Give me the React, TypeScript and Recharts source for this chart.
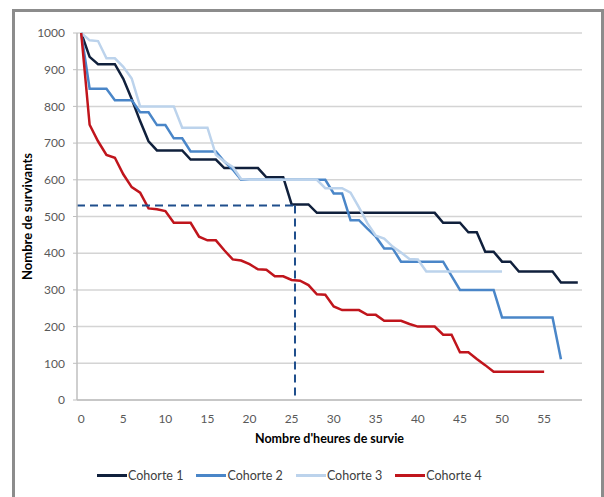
import { LineChart, Line, XAxis, YAxis, CartesianGrid, ReferenceLine, Legend } from 'recharts';

const hours = [
  0, 1, 2, 3, 4, 5, 6, 7, 8, 9, 10, 11, 12, 13, 14, 15, 16, 17, 18, 19,
  20, 21, 22, 23, 24, 25, 26, 27, 28, 29, 30, 31, 32, 33, 34, 35, 36, 37, 38, 39,
  40, 41, 42, 43, 44, 45, 46, 47, 48, 49, 50, 51, 52, 53, 54, 55, 56, 57, 58, 59,
];

const cohorte1 = [
  1000, 935, 915, 915, 915, 875, 820, 760, 705, 680, 680, 680, 680, 655, 655, 655, 655, 632, 632, 632,
  632, 632, 607, 607, 607, 533, 533, 533, 510, 510, 510, 510, 510, 510, 510, 510, 510, 510, 510, 510,
  510, 510, 510, 483, 483, 483, 457, 457, 404, 404, 377, 377, 350, 350, 350, 350, 350, 320, 320, 320,
];

const cohorte2 = [
  1000, 848, 848, 848, 817, 817, 817, 784, 784, 749, 749, 713, 713, 677, 677, 677, 677, 650, 628, 600,
  600, 600, 600, 600, 600, 600, 600, 600, 600, 600, 563, 563, 490, 490, 467, 445, 413, 413, 377, 377,
  377, 377, 377, 377, 338, 300, 300, 300, 300, 300, 225, 225, 225, 225, 225, 225, 225, 111, null, null,
];

const cohorte3 = [
  1000, 980, 978, 931, 931, 908, 876, 800, 800, 800, 800, 800, 742, 742, 742, 742, 668, 650, 635, 602,
  600, 600, 600, 600, 600, 600, 600, 600, 600, 577, 577, 577, 565, 525, 482, 448, 440, 418, 402, 384,
  383, 350, 350, 350, 350, 350, 350, 350, 350, 350, 350, null, null, null, null, null, null, null, null, null,
];

const cohorte4 = [
  1000, 750, 705, 668, 660, 615, 580, 565, 522, 520, 515, 483, 483, 483, 445, 435, 435, 408, 383, 380,
  370, 356, 355, 337, 337, 327, 325, 313, 288, 287, 255, 245, 245, 245, 232, 232, 216, 216, 216, 207,
  200, 200, 200, 178, 178, 130, 130, 112, 95, 77, 77, 77, 77, 77, 77, 77, null, null, null, null,
];

const xTicks = [0, 5, 10, 15, 20, 25, 30, 35, 40, 45, 50, 55];
const yTicks = [0, 100, 200, 300, 400, 500, 600, 700, 800, 900, 1000];
// limites entre catégories (petites graduations)
const minorTicks = [-0.5, ...hours.map((h) => h + 0.5)];

// repère médiane
const medianeHeures = 25.4;
const medianeSurvivants = 530;

const series = [
  { key: 'c1', name: 'Cohorte 1', color: '#10203c' },
  { key: 'c2', name: 'Cohorte 2', color: '#4a86c8' },
  { key: 'c3', name: 'Cohorte 3', color: '#bcd3ec' },
  { key: 'c4', name: 'Cohorte 4', color: '#c0151c' },
];

const data = hours.map((h, i) => ({
  h,
  c1: cohorte1[i],
  c2: cohorte2[i],
  c3: cohorte3[i],
  c4: cohorte4[i],
}));

const FONT = 'Lato, "Open Sans", sans-serif';

function LegendContent() {
  return (
    <div style={{ display: 'flex', alignItems: 'center', fontFamily: FONT, fontSize: 12.5, color: '#404040' }}>
      {series.map((s) => (
        <div key={s.key} style={{ display: 'flex', alignItems: 'center', marginRight: 13 }}>
          <div style={{ width: 30, height: 3, background: s.color }} />
          <span style={{ marginLeft: 1 }}>{s.name}</span>
        </div>
      ))}
    </div>
  );
}

export default function App() {
  return (
    <div style={{ position: 'absolute', left: 0, top: 0, width: 604, height: 497, overflow: 'hidden', background: '#fff' }}>
      <div
        style={{
          position: 'absolute',
          left: 12,
          top: 9,
          width: 592,
          height: 500,
          border: '3px solid #8c8c8c',
          boxSizing: 'border-box',
        }}
      />
      <LineChart
        width={604}
        height={497}
        data={data}
        margin={{ top: 33, right: 22, bottom: 52, left: 15 }}
        style={{ position: 'absolute', left: 0, top: 0 }}
      >
        <CartesianGrid vertical={false} stroke="#d4d4d4" strokeWidth={1.5} />
        <XAxis
          xAxisId="minor"
          dataKey="h"
          type="number"
          domain={[-0.5, 59.5]}
          ticks={minorTicks}
          interval={0}
          tick={false}
          tickSize={4}
          tickLine={{ stroke: '#bfbfbf' }}
          axisLine={false}
          height={0}
        />
        <XAxis
          dataKey="h"
          type="number"
          domain={[-0.5, 59.5]}
          ticks={xTicks}
          interval={0}
          tickLine={false}
          tickSize={6}
          tickMargin={8}
          axisLine={{ stroke: '#bfbfbf', strokeWidth: 1.5 }}
          tick={{ fill: '#595959', fontSize: 12, fontFamily: FONT }}
          height={45}
          label={{
            value: "Nombre d'heures de survie",
            position: 'insideBottom',
            offset: 2,
            style: { fill: '#000', fontSize: 12.5, fontWeight: 700, fontFamily: FONT },
          }}
        />
        <YAxis
          domain={[0, 1000]}
          ticks={yTicks}
          interval={0}
          width={62}
          tickSize={4}
          tickMargin={8}
          tickLine={{ stroke: '#bfbfbf' }}
          axisLine={{ stroke: '#bfbfbf', strokeWidth: 1.5 }}
          tick={{ fill: '#595959', fontSize: 12, fontFamily: FONT }}
          label={{
            value: 'Nombre de survivants',
            angle: -90,
            position: 'insideLeft',
            offset: 12,
            style: { textAnchor: 'middle', fill: '#000', fontSize: 13, fontWeight: 700, fontFamily: FONT },
          }}
        />
        {series.map((s) => (
          <Line
            key={s.key}
            dataKey={s.key}
            name={s.name}
            type="linear"
            stroke={s.color}
            strokeWidth={2.5}
            dot={false}
            activeDot={false}
            isAnimationActive={false}
          />
        ))}
        <ReferenceLine
          segment={[
            { x: -0.5, y: medianeSurvivants },
            { x: medianeHeures, y: medianeSurvivants },
          ]}
          stroke="#1f4e8c"
          strokeWidth={2}
          strokeDasharray="8 5"
          ifOverflow="visible"
        />
        <ReferenceLine
          segment={[
            { x: medianeHeures, y: medianeSurvivants },
            { x: medianeHeures, y: 0 },
          ]}
          stroke="#1f4e8c"
          strokeWidth={2}
          strokeDasharray="8 5"
          ifOverflow="visible"
        />
        <Legend
          verticalAlign="middle"
          align="center"
          layout="horizontal"
          content={<LegendContent />}
          wrapperStyle={{ top: 468, left: 97, width: 480, height: 20 }}
        />
      </LineChart>
    </div>
  );
}
